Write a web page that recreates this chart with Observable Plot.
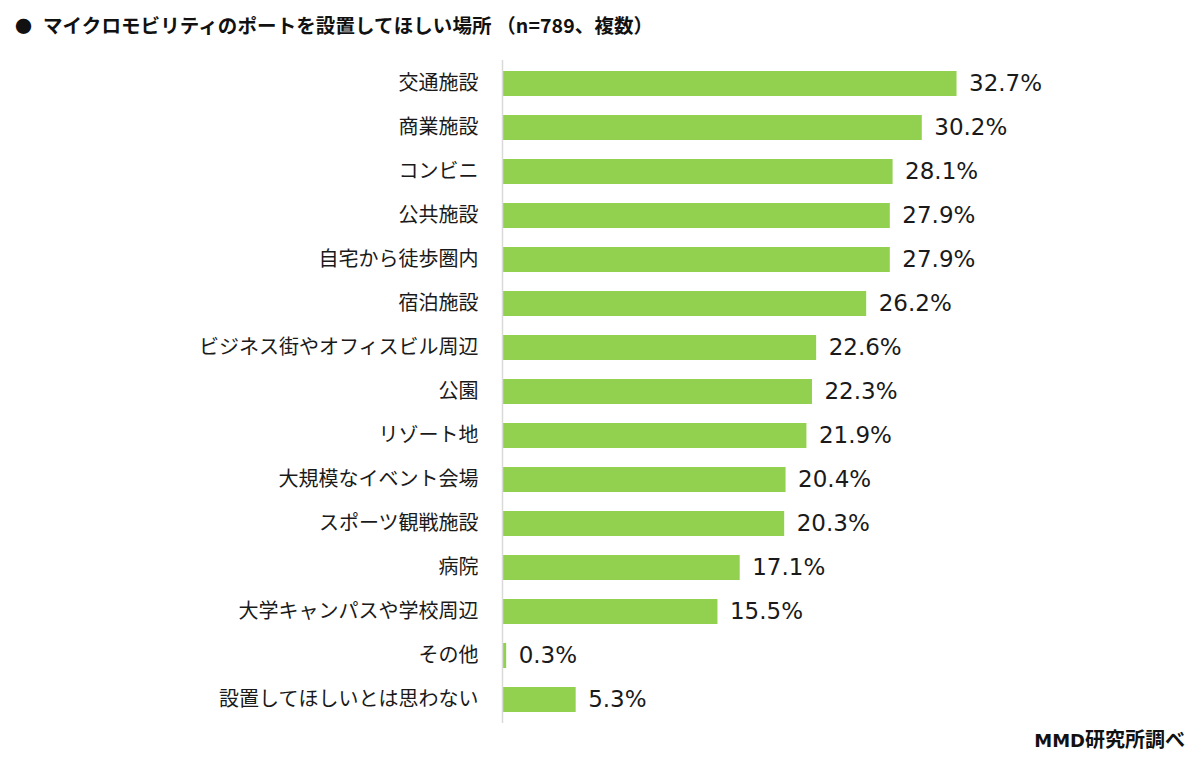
<!DOCTYPE html>
<html>
<head>
<meta charset="utf-8">
<script src="https://cdn.jsdelivr.net/npm/d3@7"></script>
<script src="https://cdn.jsdelivr.net/npm/@observablehq/plot@0.6"></script>
<style>
  html, body { margin: 0; padding: 0; background: #fff; }
  #wrap { position: relative; width: 1200px; height: 766px; overflow: hidden; }
  #title { position: absolute; left: 15px; top: 10px; font-family: "Noto Sans CJK JP", sans-serif; font-weight: bold; font-size: 19.5px; color: #111; white-space: nowrap; letter-spacing: 0.1px; }
  #title .dot { display: inline-block; width: 28px; font-size: 17px; }
  #caption { position: absolute; right: 15px; top: 724px; font-family: "Noto Sans CJK JP", sans-serif; font-weight: bold; font-size: 20px; color: #111; white-space: nowrap; }
  #caption .lat { font-family: "DejaVu Sans", sans-serif; font-size: 18px; }
</style>
</head>
<body>
<div id="wrap">
  <div id="title"><span class="dot">●</span>マイクロモビリティのポートを設置してほしい場所 （n=789、複数）</div>
  <div id="caption"><span class="lat">MMD</span>研究所調べ</div>
</div>
<script>
const categories = [
  "交通施設", "商業施設", "コンビニ", "公共施設", "自宅から徒歩圏内", "宿泊施設",
  "ビジネス街やオフィスビル周辺", "公園", "リゾート地", "大規模なイベント会場",
  "スポーツ観戦施設", "病院", "大学キャンパスや学校周辺", "その他", "設置してほしいとは思わない"
];
const values = [32.7, 30.2, 28.1, 27.9, 27.9, 26.2, 22.6, 22.3, 21.9, 20.4, 20.3, 17.1, 15.5, 0.3, 5.3];

const data = categories.map((c, i) => ({category: c, value: values[i]}));

const chart = Plot.plot({
  width: 1200,
  height: 766,
  marginTop: 60,
  marginBottom: 43,
  marginLeft: 502,
  marginRight: 142,
  style: {background: "transparent", color: "#1a1a1a"},
  x: {domain: [0, 40], axis: null},
  y: {domain: categories, paddingInner: 0.434, paddingOuter: 0.227, label: null},
  marks: [
    Plot.barX(data, {x: "value", y: "category", fill: "#92D050"}),
    Plot.ruleX([0], {stroke: "#d9d9d9", strokeWidth: 1.5}),
    Plot.axisY({tickSize: 0, tickPadding: 24, fontSize: 20, fontFamily: "Noto Sans CJK JP", fill: "#1a1a1a", label: null}),
    Plot.text(data, {x: "value", y: "category", text: d => d.value.toFixed(1) + "%", dx: 12, textAnchor: "start", fontSize: 23, fontFamily: "DejaVu Sans", fill: "#1a1a1a"})
  ]
});
document.getElementById("wrap").prepend(chart);
chart.style.position = "absolute";
chart.style.left = "0";
chart.style.top = "0";
</script>
</body>
</html>
